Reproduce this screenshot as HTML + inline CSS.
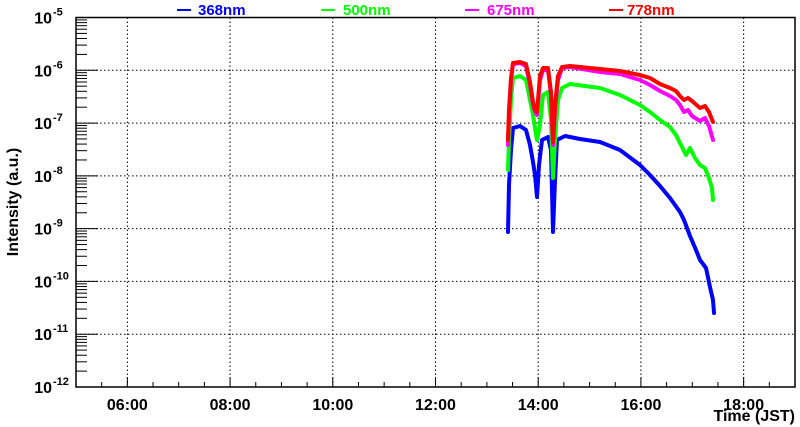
<!DOCTYPE html>
<html><head><meta charset="utf-8"><style>
body{margin:0;background:#fff;}
svg{display:block;font-family:"Liberation Sans",sans-serif;font-weight:bold;}
</style></head><body>
<svg id="s" width="800" height="427" xmlns="http://www.w3.org/2000/svg">
<rect width="800" height="427" fill="#fff"/>
<g id="grid" stroke="#000" stroke-width="1" stroke-dasharray="1.5,2.5"></g>
<g id="ticks" stroke="#000" stroke-width="1"></g>
<g id="labels" font-size="16" fill="#000"></g>
<g fill="none" stroke-width="4" stroke-linejoin="round" stroke-linecap="round">
<polyline stroke="#0000ff" points="508,232 509,185 511,150 513,128 520,126 526,130 530,145 533,162 535,175 537,197 539,165 542,140 548,137 551,150 553,232 555,180 557,140 565,136 580,139 600,142 620,150 640,165 650,175 660,186 670,198 680,212 684,220 690,236 696,250 700,260 706,268 710,287 713,300 714,313"/>
<polyline stroke="#00ff00" points="508,170 509,140 511,100 513,78 520,76 526,80 530,100 533,115 535,128 537,140 540,125 543,95 548,92 551,120 553,178 555,140 558,100 562,88 570,84 600,88 620,95 640,105 650,112 660,120 670,127 676,135 680,143 686,155 690,148 695,158 700,165 705,168 709,178 712,188 713,200"/>
<polyline stroke="#ff00ff" points="508,145 509,115 511,80 513,64 520,63 526,66 530,85 533,105 535,112 537,115 540,80 543,70 548,70 551,95 553,145 555,110 558,80 562,68 570,67 600,72 620,74 640,80 650,85 660,91 670,96 676,100 680,105 684,112 688,110 692,116 700,121 705,118 709,126 713,140"/>
<polyline stroke="#ff0000" points="508,140 509,110 511,78 513,63 520,62 526,64 530,82 533,102 535,110 537,112 540,76 543,68 548,68 551,92 553,142 555,105 558,76 562,67 570,66 600,69 620,71 640,75 650,78 660,84 670,88 676,91 680,96 684,100 688,98 692,101 700,108 705,106 709,112 713,122"/>
</g>
<rect x="76" y="17.5" width="719" height="369.5" fill="none" stroke="#000" stroke-width="1.5"/>
<g font-size="15" font-weight="bold">
<line x1="177" y1="10" x2="191" y2="10" stroke="#0000ff" stroke-width="2"/><text x="198" y="15" fill="#0000ff">368nm</text>
<line x1="321" y1="10" x2="335" y2="10" stroke="#00ff00" stroke-width="2"/><text x="343" y="15" fill="#00ff00">500nm</text>
<line x1="465" y1="10" x2="479" y2="10" stroke="#ff00ff" stroke-width="2"/><text x="487" y="15" fill="#ff00ff">675nm</text>
<line x1="609" y1="10" x2="623" y2="10" stroke="#ff0000" stroke-width="2"/><text x="627" y="15" fill="#ff0000">778nm</text>
</g>
<text x="795" y="421" font-size="16" text-anchor="end">Time (JST)</text>
<text transform="translate(18,202) rotate(-90)" font-size="16" text-anchor="middle">Intensity (a.u.)</text>
</svg>
<script>
var ns="http://www.w3.org/2000/svg";
function el(p,t,a,txt){var e=document.createElementNS(ns,t);for(var k in a)e.setAttribute(k,a[k]);if(txt)e.textContent=txt;document.getElementById(p).appendChild(e);return e;}
var L=76,R=795,T=17.5,B=387,dec=(B-T)/7,ph=(R-L)/14;
for(var i=0;i<=7;i++){var y=T+i*dec;
 if(i>0&&i<7)el("grid","line",{x1:L,x2:R,y1:y,y2:y});
 el("ticks","line",{x1:L,x2:L+22,y1:y,y2:y});
 if(i<7)for(var m=2;m<=9;m++){var yy=T+(i+1)*dec-Math.log10(m)*dec;el("ticks","line",{x1:L,x2:L+11,y1:yy,y2:yy});}
 el("labels","text",{x:52,y:y+6,"text-anchor":"end"},"10");
 el("labels","text",{x:53,y:y-2,"font-size":"11"},"-"+(5+i));
}
for(var h=0;h<=28;h++){var x=L+h*ph/2;
 if(h%4==2){el("grid","line",{x1:x,x2:x,y1:T,y2:B});el("ticks","line",{x1:x,x2:x,y1:B,y2:B-10});
  var hh=5+h/2;el("labels","text",{x:x,y:410,"text-anchor":"middle"},(hh<10?"0":"")+hh+":00");}
 else el("ticks","line",{x1:x,x2:x,y1:B,y2:B-5});
}
</script>
</body></html>
